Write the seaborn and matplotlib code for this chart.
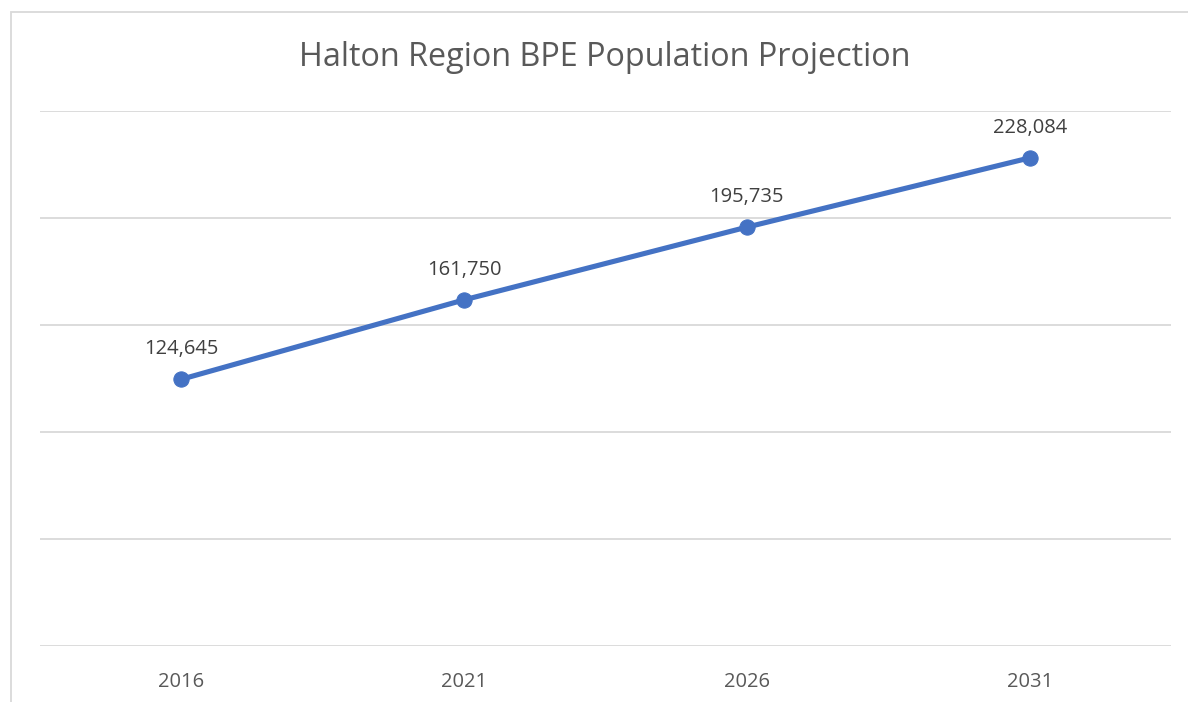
import matplotlib
matplotlib.use("Agg")
import matplotlib.pyplot as plt
import seaborn as sns
import pandas as pd
from matplotlib.patches import Rectangle

years = ["2016", "2021", "2026", "2031"]
population = [124645, 161750, 195735, 228084]
y_gridlines = [0, 50000, 100000, 150000, 200000, 250000]

sns.set_theme(style="white")
plt.rcParams["font.family"] = ["Open Sans", "DejaVu Sans"]

W, H = 1188, 702
fig = plt.figure(figsize=(W / 100, H / 100), dpi=100)

# outer chart frame (light grey border)
fig.patches.append(Rectangle((11 / W, -0.05), 1.2, 1 - 12 / H + 0.05,
                             transform=fig.transFigure, fill=False,
                             edgecolor="#D9D9D9", linewidth=1.3, zorder=0))

ax = fig.add_axes([40 / W, (H - 646) / H, (1171 - 40) / W, (646 - 111) / H])

df = pd.DataFrame({"year": years, "population": population})
df["pos"] = range(len(years))

sns.lineplot(data=df, x="pos", y="population", ax=ax, color="#4472C4",
             linewidth=3.7, marker="o", markersize=11,
             markeredgecolor="#4472C4", zorder=3)

ax.set_xlim(-0.5, len(years) - 0.5)
ax.set_ylim(0, 250000)
ax.set_yticks(y_gridlines)
ax.yaxis.grid(True, color="#D9D9D9", linewidth=1.3)
ax.set_yticklabels([])
ax.tick_params(axis="y", length=0)
ax.set_xticks(df["pos"])
ax.set_xticklabels(years, color="#595959", fontsize=14.5)
ax.tick_params(axis="x", length=0, pad=19)
ax.set_xlabel("")
ax.set_ylabel("")
for s in ax.spines.values():
    s.set_visible(False)

for x, v in zip(df["pos"], population):
    ax.annotate(f"{v:,}", (x, v), xytext=(0, 21.5), textcoords="offset points",
                ha="center", va="center", fontsize=14.5, color="#404040")

fig.text(605 / W, 1 - 58 / H, "Halton Region BPE Population Projection",
         ha="center", va="center", fontsize=23.3, color="#595959")

fig.savefig("out.png", dpi=100)
